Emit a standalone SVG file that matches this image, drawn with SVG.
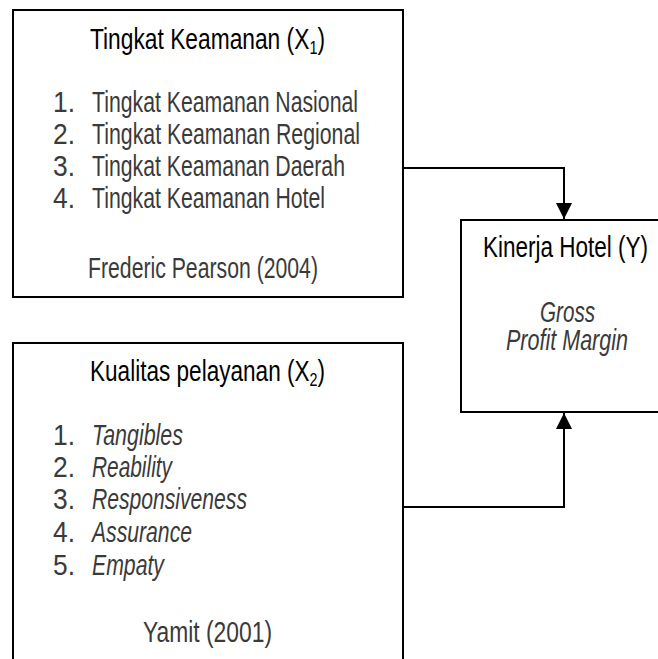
<svg xmlns="http://www.w3.org/2000/svg" width="658" height="659" viewBox="0 0 658 659">
<defs>
<style>
.box{fill:#fff;stroke:#000;stroke-width:2}
.t{font-family:"Liberation Sans",Arial,sans-serif;font-size:30px;fill:#000}
.i{font-family:"Liberation Sans",Arial,sans-serif;font-size:29px;fill:#3a3a3a}
.it{font-style:italic}
.c{fill:none;stroke:#000;stroke-width:2}
</style>
<marker id="arr" markerWidth="16" markerHeight="18" refX="16" refY="8" orient="auto" markerUnits="userSpaceOnUse" viewBox="0 0 16 16">
<path d="M0,0 L16,8 L0,16 Z" fill="#000"/>
</marker>
</defs>
<rect width="658" height="659" fill="#fff"/>
<g id="node-x1">
<rect class="box" x="13" y="10" width="390" height="287"/>
<text class="t" x="90" y="49" textLength="235" lengthAdjust="spacingAndGlyphs">Tingkat Keamanan (X<tspan font-size="19" dy="5">1</tspan><tspan dy="-5">)</tspan></text>
<text class="i" x="53" y="112" textLength="22" lengthAdjust="spacingAndGlyphs">1.</text>
<text class="i" x="92" y="112" textLength="266" lengthAdjust="spacingAndGlyphs">Tingkat Keamanan Nasional</text>
<text class="i" x="53" y="144" textLength="22" lengthAdjust="spacingAndGlyphs">2.</text>
<text class="i" x="92" y="144" textLength="268" lengthAdjust="spacingAndGlyphs">Tingkat Keamanan Regional</text>
<text class="i" x="53" y="176" textLength="22" lengthAdjust="spacingAndGlyphs">3.</text>
<text class="i" x="92" y="176" textLength="253" lengthAdjust="spacingAndGlyphs">Tingkat Keamanan Daerah</text>
<text class="i" x="53" y="208" textLength="22" lengthAdjust="spacingAndGlyphs">4.</text>
<text class="i" x="92" y="208" textLength="233" lengthAdjust="spacingAndGlyphs">Tingkat Keamanan Hotel</text>
<text class="i" x="88" y="278" textLength="230" lengthAdjust="spacingAndGlyphs">Frederic Pearson (2004)</text>
</g>
<g id="node-x2">
<path class="box" d="M13,659 V343 H403 V659"/>
<text class="t" x="90" y="381" textLength="235" lengthAdjust="spacingAndGlyphs">Kualitas pelayanan (X<tspan font-size="19" dy="5">2</tspan><tspan dy="-5">)</tspan></text>
<text class="i" x="53" y="445" textLength="22" lengthAdjust="spacingAndGlyphs">1.</text>
<text class="i it" x="92" y="445" textLength="91" lengthAdjust="spacingAndGlyphs">Tangibles</text>
<text class="i" x="53" y="477" textLength="22" lengthAdjust="spacingAndGlyphs">2.</text>
<text class="i it" x="92" y="477" textLength="80" lengthAdjust="spacingAndGlyphs">Reability</text>
<text class="i" x="53" y="509" textLength="22" lengthAdjust="spacingAndGlyphs">3.</text>
<text class="i it" x="92" y="509" textLength="155" lengthAdjust="spacingAndGlyphs">Responsiveness</text>
<text class="i" x="53" y="542" textLength="22" lengthAdjust="spacingAndGlyphs">4.</text>
<text class="i it" x="92" y="542" textLength="100" lengthAdjust="spacingAndGlyphs">Assurance</text>
<text class="i" x="53" y="575" textLength="22" lengthAdjust="spacingAndGlyphs">5.</text>
<text class="i it" x="92" y="575" textLength="72" lengthAdjust="spacingAndGlyphs">Empaty</text>
<text class="i" x="143" y="642" textLength="129" lengthAdjust="spacingAndGlyphs">Yamit (2001)</text>
</g>
<g id="node-y">
<path class="box" d="M658,220 H461 V412 H658"/>
<text class="t" x="483" y="257" textLength="165" lengthAdjust="spacingAndGlyphs">Kinerja Hotel (Y)</text>
<text class="i it" x="540" y="322" textLength="55" lengthAdjust="spacingAndGlyphs">Gross</text>
<text class="i it" x="506" y="350" textLength="122" lengthAdjust="spacingAndGlyphs">Profit Margin</text>
</g>
<g id="connectors">
<polyline class="c" points="403,168 564,168 564,219" marker-end="url(#arr)"/>
<polyline class="c" points="403,507 564,507 564,413" marker-end="url(#arr)"/>
</g>
</svg>
